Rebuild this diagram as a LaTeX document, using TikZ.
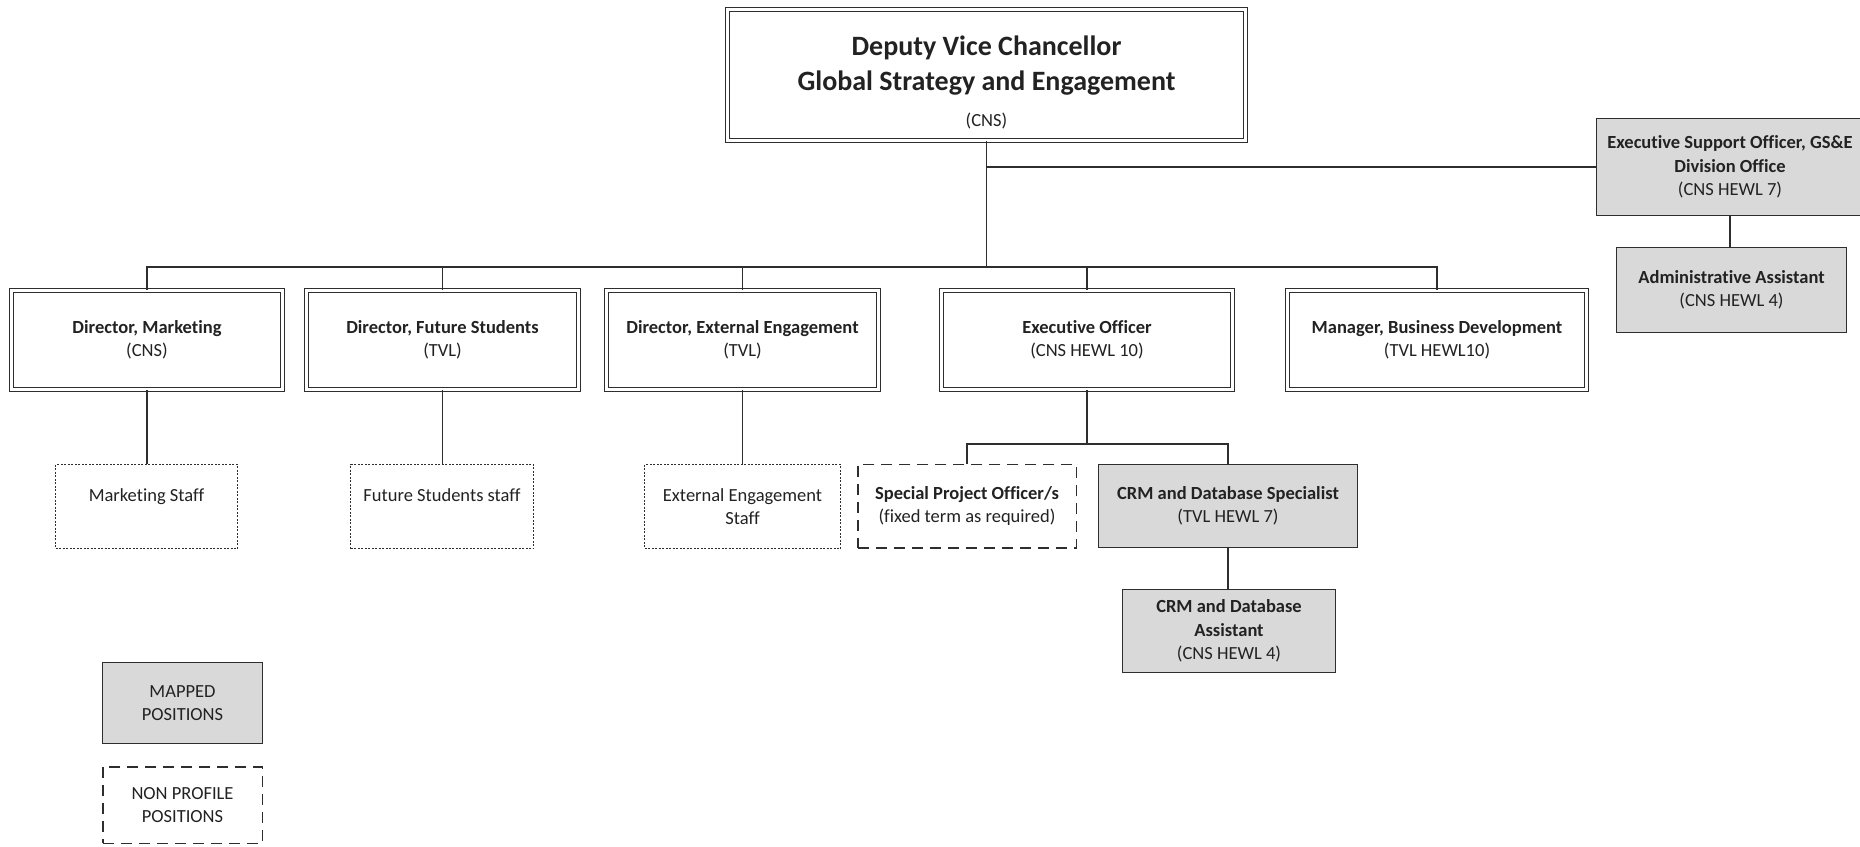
\documentclass[tikz,border=0pt]{standalone}
\usepackage{fontspec}
\setmainfont{Carlito}[Ligatures={TeX,NoCommon}]
\definecolor{boxgray}{HTML}{D9D9D9}
\definecolor{ink}{HTML}{222222}
\definecolor{linec}{HTML}{2E2E2E}
\begin{document}
\begin{tikzpicture}[x=1pt,y=-1pt,
  base/.style={inner sep=0pt, align=center, text=ink, font=\fontsize{18.5}{23.5}\selectfont},
  dbl/.style={base, draw=linec, double=white, double distance=2.4pt, line width=1.25pt},
  greybox/.style={base, draw=linec, fill=boxgray, line width=1.4pt},
  dotbox/.style={base, draw=linec, line width=1.3pt, dash pattern=on 2pt off 1.5pt},
  dashbox/.style={base, draw=linec, line width=1.5pt, dash pattern=on 11pt off 7pt},
  conn/.style={draw=linec, line width=1.4pt}]
\useasboundingbox (0,0) rectangle (1860,846);
\fill[white] (0,0) rectangle (1860,846);

% top
\node[dbl, minimum width=518pt, minimum height=131pt] (dvc) at (986.5,75) {};
\node[base, font=\fontsize{28}{35.5}\selectfont\bfseries] (dvct) at ([yshift=-7pt]dvc.center)
  {Deputy Vice Chancellor\\Global Strategy and Engagement\\{\fontsize{18.5}{23.5}\selectfont\mdseries (CNS)}};

% executive support
\node[greybox, minimum width=266.6pt, minimum height=96.6pt] (eso) at (1730,167)
  {\textbf{Executive Support Officer, GS\&E}\\\textbf{Division Office}\\(CNS HEWL 7)};
\node[greybox, minimum width=229.6pt, minimum height=84.6pt] (adm) at (1731.5,290)
  {\textbf{Administrative Assistant}\\(CNS HEWL 4)};

% directors
\node[dbl, minimum width=271pt, minimum height=99pt] (mkt) at (147,340)
  {\textbf{Director, Marketing}\\(CNS)};
\node[dbl, minimum width=272pt, minimum height=99pt] (fut) at (442.5,340)
  {\textbf{Director, Future Students}\\(TVL)};
\node[dbl, minimum width=272pt, minimum height=99pt] (ext) at (742.5,340)
  {\textbf{Director, External Engagement}\\(TVL)};
\node[dbl, minimum width=291pt, minimum height=99pt] (exo) at (1087,340)
  {\textbf{Executive Officer}\\(CNS HEWL 10)};
\node[dbl, minimum width=299pt, minimum height=99pt] (mgr) at (1437,340)
  {\textbf{Manager, Business Development}\\(TVL HEWL10)};

% staff row
\node[dotbox, minimum width=182pt, minimum height=84pt] (mks) at (146.5,506.5)
  {Marketing Staff\\\mbox{}};
\node[dotbox, minimum width=183pt, minimum height=84pt] (fus) at (442,506.5)
  {Future Students staff\\\mbox{}};
\node[dotbox, minimum width=196pt, minimum height=84pt] (exs) at (742.5,506.5)
  {External Engagement\\Staff};
\node[dashbox, minimum width=218.5pt, minimum height=83.5pt] (spo) at (967,506)
  {\textbf{Special Project Officer/s}\\(fixed term as required)};
\node[greybox, minimum width=258.6pt, minimum height=82.6pt] (crm) at (1228,506)
  {\textbf{CRM and Database Specialist}\\(TVL HEWL 7)};
\node[greybox, minimum width=212.6pt, minimum height=82.6pt] (cra) at (1229,631)
  {\textbf{CRM and Database}\\\textbf{Assistant}\\(CNS HEWL 4)};

% legend
\node[greybox, minimum width=159.6pt, minimum height=80.6pt] (map) at (182.5,703)
  {MAPPED\\POSITIONS};
\node[dashbox, minimum width=159.5pt, minimum height=76.5pt] (npp) at (182.5,805)
  {NON PROFILE\\POSITIONS};

% connectors
\coordinate (busc) at (dvc.south |- 0,267);
\draw[conn] (dvc.south) -- (busc);
\draw[conn] (busc) -| (mkt.north);
\draw[conn] (busc) -| (fut.north);
\draw[conn] (busc) -| (ext.north);
\draw[conn] (busc) -| (exo.north);
\draw[conn] (busc) -| (mgr.north);
\coordinate (esoj) at (dvc.south |- eso.west);
\draw[conn] (esoj) -- (eso.west);
\draw[conn] (eso.south) -- (eso.south |- adm.north);
\draw[conn] (mkt.south) -- (mkt.south |- mks.north);
\draw[conn] (fut.south) -- (fut.south |- fus.north);
\draw[conn] (ext.south) -- (ext.south |- exs.north);
\coordinate (exob) at (exo.south |- 0,444);
\draw[conn] (exo.south) -- (exob);
\draw[conn] (exob) -| (spo.north);
\draw[conn] (exob) -| (crm.north);
\draw[conn] (crm.south) -- (crm.south |- cra.north);
\end{tikzpicture}
\end{document}
